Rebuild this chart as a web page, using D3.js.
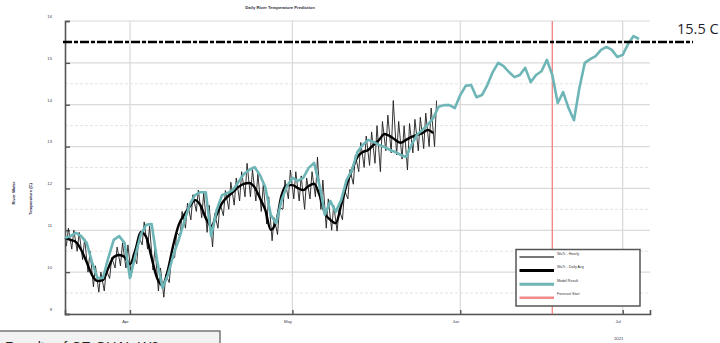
<!DOCTYPE html>
<html>
<head>
<meta charset="utf-8">
<script src="https://cdn.jsdelivr.net/npm/d3@7"></script>
<style>
  html, body { margin: 0; padding: 0; background: #fff; overflow: hidden; }
  svg { display: block; font-family: "Liberation Sans", Arial, sans-serif; }
</style>
</head>
<body>
<svg id="chart" width="720" height="343"></svg>
<script>
// ---- data -------------------------------------------------------------
const startDate = new Date(2021, 2, 20);          // first day of record
const endDate = new Date(2021, 6, 6, 1);          // right edge of the axis

// model result, one value per day from Mar 20 (deg C)
const modelTemps = [
  10.82, 10.86, 10.94, 10.86, 10.70, 10.24, 9.86, 9.86, 10.34, 10.77,
  10.86, 10.70, 9.86, 10.40, 10.90, 11.13, 11.15, 10.29, 9.62, 9.93,
  10.41, 10.77, 11.20, 11.60, 11.84, 11.91, 11.91, 10.86, 11.48, 11.84,
  11.89, 11.96, 12.15, 12.34, 12.44, 12.51, 12.32, 12.03, 11.37, 11.17,
  11.72, 12.06, 12.25, 12.18, 12.25, 12.49, 12.61, 12.08, 11.37, 11.70,
  11.44, 11.72, 12.20, 12.44, 12.87, 13.04, 13.16, 13.11, 13.04, 12.99,
  12.92, 12.87, 12.80, 12.75, 13.04, 13.28, 13.40, 13.52, 13.68, 13.95,
  13.99, 13.99, 13.92, 14.23, 14.45, 14.47, 14.18, 14.23, 14.47, 14.78,
  15.00, 14.92, 14.78, 14.66, 14.71, 14.88, 14.54, 14.71, 14.80, 15.07,
  14.71, 14.04, 14.30, 13.92, 13.63, 14.40, 15.00, 15.09, 15.16, 15.31,
  15.38, 15.31, 15.14, 15.19, 15.45, 15.64, 15.57
];

// measured water temperature, daily average from Mar 20 (deg C)
const dailyAvgTemps = [
  10.82, 10.77, 10.72, 10.53, 10.24, 9.93, 9.79, 9.81, 10.10, 10.36,
  10.41, 10.36, 10.19, 10.53, 10.96, 10.84, 10.34, 9.86, 9.69, 10.05,
  10.65, 11.13, 11.37, 11.56, 11.72, 11.60, 11.29, 11.10, 11.37, 11.65,
  11.80, 11.91, 12.03, 12.11, 12.13, 12.03, 11.77, 11.48, 11.01, 11.20,
  11.84, 12.08, 12.08, 12.01, 11.96, 12.06, 12.11, 11.84, 11.41, 11.25,
  11.17, 11.60, 12.08, 12.44, 12.75, 12.87, 12.92, 13.04, 13.16, 13.30,
  13.25, 13.16, 13.09, 13.16, 13.23, 13.28, 13.32, 13.40, 13.32
];

// measured hourly water temperature: daily low (early morning) and high (afternoon)
const hourlyLows = [
  10.62, 10.55, 10.50, 10.30, 10.00, 9.65, 9.52, 9.55, 9.85, 10.10,
  10.15, 10.10, 9.90, 10.20, 10.65, 10.55, 10.05, 9.55, 9.40, 9.75,
  10.35, 10.85, 11.05, 11.25, 11.45, 11.30, 10.95, 10.60, 11.05, 11.35,
  11.50, 11.60, 11.70, 11.80, 11.80, 11.70, 11.45, 11.15, 10.75, 10.90,
  11.50, 11.75, 11.75, 11.70, 11.50, 11.75, 11.80, 11.50, 11.05, 11.00,
  10.98, 11.25, 11.75, 12.10, 12.40, 12.50, 12.55, 12.60, 12.40, 12.90,
  12.85, 12.80, 12.70, 12.44, 12.85, 12.90, 12.95, 13.00, 13.00
];
const hourlyHighs = [
  11.05, 11.00, 10.95, 10.80, 10.50, 10.15, 10.00, 10.05, 10.35, 10.60,
  10.70, 10.65, 10.45, 10.85, 11.20, 11.10, 10.60, 10.10, 9.95, 10.30,
  10.95, 11.45, 11.65, 11.85, 11.96, 11.90, 11.60, 11.40, 11.65, 11.95,
  12.15, 12.25, 12.40, 12.60, 12.45, 12.35, 12.10, 11.80, 11.30, 11.55,
  12.20, 12.44, 12.40, 12.30, 12.25, 12.40, 12.75, 12.20, 11.75, 11.60,
  11.50, 11.95, 12.45, 12.80, 13.10, 13.25, 13.35, 13.50, 13.60, 13.75,
  14.10, 13.60, 13.50, 13.55, 13.65, 13.70, 13.80, 13.92, 14.10
];

const forecastStart = new Date(2021, 5, 18);
const thresholdTemp = 15.5;

const yTicks = [9, 10, 11, 12, 13, 14, 15, 16];
const yMinorTicks = [9.5, 10.5, 11.5, 12.5, 13.5, 14.5, 15.5];
const monthTicks = [new Date(2021, 3, 1), new Date(2021, 4, 1), new Date(2021, 5, 1), new Date(2021, 6, 1)];
const monthLabels = ["Apr", "May", "Jun", "Jul"];
const yearLabel = "2021";

const legendItems = [
  { label: "WaTr - Hourly", color: "#4a4a4a", width: 1.6 },
  { label: "WaTr - Daily Avg", color: "#000000", width: 3 },
  { label: "Model Result", color: "#6db5b6", width: 3 },
  { label: "Forecast Start", color: "#f28a8a", width: 2.5 }
];

// ---- layout -----------------------------------------------------------
const svg = d3.select("#chart");
const plot = { left: 65, right: 650, top: 21, bottom: 314 };

const x = d3.scaleTime().domain([startDate, endDate]).range([plot.left, plot.right]);
const y = d3.scaleLinear().domain([9, 16]).range([plot.bottom, plot.top]);

const dayAt = (i, h = 0) => d3.timeHour.offset(d3.timeDay.offset(startDate, i), h);

// gridlines
const grid = svg.append("g");
grid.selectAll("line.minor").data(yMinorTicks).join("line")
  .attr("x1", plot.left).attr("x2", plot.right)
  .attr("y1", d => y(d)).attr("y2", d => y(d))
  .attr("stroke", "#e3e3e3").attr("stroke-width", 1).attr("stroke-dasharray", "3,2");
grid.selectAll("line.major").data(yTicks).join("line")
  .attr("x1", plot.left).attr("x2", plot.right)
  .attr("y1", d => y(d)).attr("y2", d => y(d))
  .attr("stroke", "#dadada").attr("stroke-width", 1.2);
grid.selectAll("line.vert").data(monthTicks).join("line")
  .attr("x1", d => x(d)).attr("x2", d => x(d))
  .attr("y1", plot.top).attr("y2", plot.bottom)
  .attr("stroke", "#d8d8d8").attr("stroke-width", 1.2);

// title and axis titles
svg.append("text")
  .attr("x", 280).attr("y", 8.5).attr("text-anchor", "middle")
  .attr("font-size", 4.2).attr("font-weight", "bold").attr("fill", "#2b2b3a")
  .text("Daily River Temperature Prediction");
svg.append("text")
  .attr("transform", "translate(15,193) rotate(-90)").attr("text-anchor", "middle")
  .attr("font-size", 4.2).attr("font-weight", "bold").attr("fill", "#2b2b4a")
  .text("River Water");
svg.append("text")
  .attr("transform", "translate(32,199) rotate(-90)").attr("text-anchor", "middle")
  .attr("font-size", 4.2).attr("font-weight", "bold").attr("fill", "#2b2b4a")
  .text("Temperature (C)");

// axes
const yAxis = svg.append("g")
  .attr("transform", `translate(${plot.left},0)`)
  .call(d3.axisLeft(y).tickValues(yTicks).tickSize(-5).tickPadding(13).tickFormat(d3.format("d")));
yAxis.select(".domain").attr("stroke", "#555").attr("stroke-width", 1.6);
yAxis.selectAll(".tick line").attr("stroke", "#555").attr("stroke-width", 1.4);
yAxis.selectAll(".tick text").attr("y", -5).attr("font-size", 4.2).attr("fill", "#3a3a4a");

const xAxis = svg.append("g")
  .attr("transform", `translate(0,${plot.bottom})`)
  .call(d3.axisBottom(x).tickValues(monthTicks).tickSize(-4).tickPadding(6)
    .tickFormat((d, i) => monthLabels[i]));
xAxis.select(".domain").attr("stroke", "#555").attr("stroke-width", 1.6);
xAxis.selectAll(".tick line").attr("stroke", "#555").attr("stroke-width", 1.4);
xAxis.selectAll(".tick text").attr("font-size", 4.2).attr("fill", "#3a3a4a").attr("dx", -5);
svg.append("text")
  .attr("x", x(monthTicks[3]) - 4).attr("y", 339.5).attr("text-anchor", "middle")
  .attr("font-size", 4.2).attr("fill", "#3a3a4a").text(yearLabel);

// forecast start marker
svg.append("line")
  .attr("x1", x(forecastStart)).attr("x2", x(forecastStart))
  .attr("y1", plot.top).attr("y2", plot.bottom)
  .attr("stroke", legendItems[3].color).attr("stroke-width", 1.4);

// hourly measurements
const hourlyPts = [];
hourlyLows.forEach((lo, i) => {
  hourlyPts.push({ t: dayAt(i, 6), v: lo });
  hourlyPts.push({ t: dayAt(i, 15), v: hourlyHighs[i] });
});
const line = d3.line().x(d => x(d.t)).y(d => y(d.v));
svg.append("path").datum(hourlyPts)
  .attr("d", line).attr("fill", "none")
  .attr("stroke", "#1e1e1e").attr("stroke-width", 0.9).attr("stroke-linejoin", "round");

// daily average
svg.append("path").datum(dailyAvgTemps.map((v, i) => ({ t: dayAt(i), v })))
  .attr("d", line.curve(d3.curveMonotoneX)).attr("fill", "none")
  .attr("stroke", "#000").attr("stroke-width", 2.4).attr("stroke-linejoin", "round");

// model result
svg.append("path").datum(modelTemps.map((v, i) => ({ t: dayAt(i), v })))
  .attr("d", d3.line().x(d => x(d.t)).y(d => y(d.v))).attr("fill", "none")
  .attr("stroke", legendItems[2].color).attr("stroke-width", 2.6).attr("stroke-linejoin", "round");

// threshold line with its label
svg.append("line")
  .attr("x1", plot.left - 2).attr("x2", plot.right + 43)
  .attr("y1", y(thresholdTemp)).attr("y2", y(thresholdTemp))
  .attr("stroke", "#000").attr("stroke-width", 2.6).attr("stroke-dasharray", "9,2,4,2");
svg.append("text")
  .attr("x", 677).attr("y", y(thresholdTemp) - 8)
  .attr("font-size", 14.5).attr("fill", "#1f1f2a")
  .attr("font-family", "'Open Sans', 'Liberation Sans', sans-serif")
  .text(thresholdTemp + " C");

// legend
const legend = svg.append("g").attr("transform", "translate(516,249.5)");
legend.append("rect").attr("width", 124).attr("height", 56.5)
  .attr("fill", "#fff").attr("stroke", "#555").attr("stroke-width", 1.5);
const li = legend.selectAll("g.item").data(legendItems).join("g")
  .attr("transform", (d, i) => `translate(0,${7.5 + i * 13.6})`);
li.append("line").attr("x1", 3.5).attr("x2", 38)
  .attr("stroke", d => d.color).attr("stroke-width", d => d.width);
li.append("text").attr("x", 41).attr("y", -2.5)
  .attr("font-size", 3.6).attr("fill", "#333").text(d => d.label);

// caption box along the bottom edge
svg.append("rect").attr("x", -2).attr("y", 331).attr("width", 222).attr("height", 20)
  .attr("fill", "#f2f2f2").attr("stroke", "#555").attr("stroke-width", 1.2);
svg.append("text").attr("x", 5).attr("y", 351.5)
  .attr("font-size", 14).attr("fill", "#222")
  .text("Results of CE-QUAL-W2");
</script>
</body>
</html>
